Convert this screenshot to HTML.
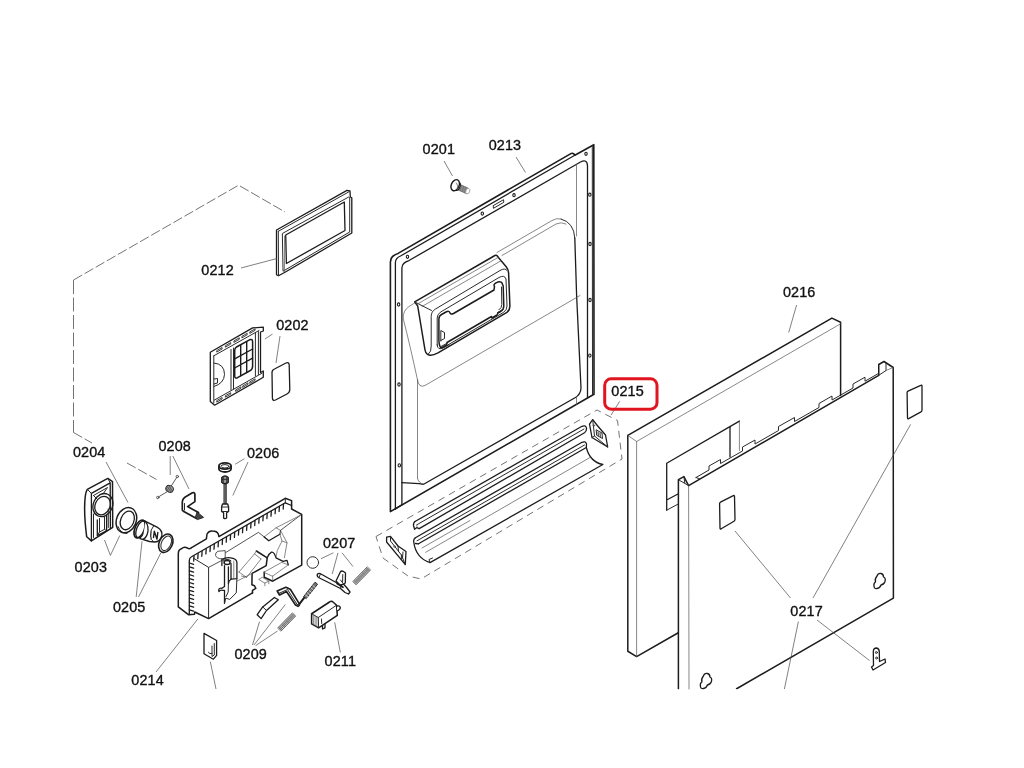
<!DOCTYPE html>
<html><head><meta charset="utf-8">
<style>
html,body{margin:0;padding:0;background:#fff;}
body{width:1024px;height:768px;overflow:hidden;position:relative;font-family:"Liberation Sans",sans-serif;}
svg{position:absolute;left:0;top:0;}
.b{fill:none;stroke:#1c1c1c;stroke-width:1.3;stroke-linejoin:round;stroke-linecap:round;}
.m{fill:none;stroke:#2a2a2a;stroke-width:1;stroke-linejoin:round;stroke-linecap:round;}
.t{fill:none;stroke:#555;stroke-width:0.7;stroke-linejoin:round;stroke-linecap:round;}
.l{fill:none;stroke:#4a4a4a;stroke-width:0.7;}
.d{fill:none;stroke:#5a5a5a;stroke-width:0.85;stroke-dasharray:10 2.8;}
.w{fill:#fff;}
text{font-family:"Liberation Sans",sans-serif;font-size:14.4px;fill:#111;stroke:#111;stroke-width:0.35;letter-spacing:0.12px;}
</style></head><body>
<svg width="1024" height="768" viewBox="0 0 1024 768">
<rect width="1024" height="768" fill="#fff"/>
<g class="d" id="dashes">
<path d="M73.5,280 L238.6,185.2 L285,212"/>
<path style="stroke-dasharray:14 3.5" d="M73.5,280 L73.5,432.5"/>
<path d="M73.5,432.5 L92,443 M127,463 L156.5,479.5"/>
</g>
<!--PARTS-->
<g id="p0212">
<path class="b" d="M276.5,230 L347,190.4 L350,191 L350.3,197 L351.8,197.8 L351.8,233 L285,272.3 L278.5,275.8 L276.5,274.7 Z"/>
<path class="m" d="M278.3,231.3 L348.6,192"/>
<path class="m" d="M278.3,231.3 L278.5,275.5"/>
<path class="m" d="M282.7,233.3 L348.7,197 L349.7,197.6 L349.7,232 L283.4,271 Z"/>
<path class="b" d="M285.7,235 L344.3,202 L345,230.5 L286.4,263.5 Z"/>
<path class="t" d="M284.5,271.5 L284.5,236"/>
</g>
<g id="p0201">
<path d="M459.3,184 L468.6,188.3 L466.6,193.8 L457.6,189.8 Z" fill="#8c8c8c" stroke="#555" stroke-width="0.6"/>
<path d="M461.5,185 L460,191 M463.7,186 L462.2,192 M465.9,187 L464.4,193" stroke="#666" stroke-width="0.6" fill="none"/>
<ellipse cx="467.8" cy="191.1" rx="1.9" ry="2.8" transform="rotate(22 467.8 191.1)" fill="#fff" stroke="#999" stroke-width="0.8"/>
<ellipse class="b" cx="457.3" cy="186.3" rx="2.7" ry="4.4" transform="rotate(22 457.3 186.3)" style="fill:#fff;stroke-width:1"/>
<ellipse class="b" cx="455.2" cy="185.2" rx="3.9" ry="5.8" transform="rotate(24 455.2 185.2)" style="fill:#fff;stroke-width:1.4"/>
<path class="t" d="M456.5,183 Q458.5,185.5 457.3,189.5"/>
</g>
<g id="p0202">
<path class="b" d="M210.3,352.2 L252.6,327.9 L263.3,327.2 L263.3,331 L260.5,332 L260.5,372.5 L263.3,371 L263.3,377.3 L214.6,405.2 L210.3,401.6 Z"/>
<path class="m" d="M213.8,355.8 L259,330.5"/>
<path class="m" d="M213.8,355.8 L213.8,403"/>
<path class="m" d="M214.5,400 L262,373.2"/>
<path class="m" d="M231,349.5 L231,390 M233.5,348 L233.5,388.8"/>
<path class="m" d="M255.4,333 L255.4,376 M258.4,331.5 L258.4,374.5"/>
<path class="b" d="M236.5,347 L249.5,339.8 Q252.6,338.5 252.6,342 L252.6,366.5 Q252.6,369.5 249.5,371 L237.5,377.7 Q234.7,379 234.7,376 L234.7,350.5 Q234.7,348 236.5,347 Z" style="stroke-width:1.5"/>
<path class="b" d="M240.7,345 L240.7,375.8 M246.7,341.7 L246.7,372.5 M234.7,358.8 L252.6,349 M234.7,368 L252.6,358.2" style="stroke-width:1.4"/>
<path class="m" d="M214,363 Q224.5,364 224.5,374.5 Q224,383.5 214,386.5"/>
<path class="m" d="M214,379 L217.5,378.5 L217.5,383 L214,384"/>
<path class="m" style="stroke-width:0.9" d="M217.1,350.4 L222.1,347.5 L222.1,349.0 L217.1,351.9 Z M225.7,345.5 L230.7,342.6 L230.7,344.1 L225.7,347.0 Z M234.3,340.7 L239.3,337.8 L239.3,339.3 L234.3,342.2 Z M242.2,336.2 L247.2,333.3 L247.2,334.8 L242.2,337.7 Z M250.1,331.7 L255.1,328.8 L255.1,330.3 L250.1,333.2 Z M217.1,400.4 L222.1,397.5 L222.1,399.0 L217.1,401.9 Z M225.7,395.5 L230.7,392.7 L230.7,394.2 L225.7,397.0 Z M236.0,389.7 L241.0,386.8 L241.0,388.3 L236.0,391.2 Z M243.0,385.7 L248.0,382.8 L248.0,384.3 L243.0,387.2 Z M250.1,381.7 L255.1,378.8 L255.1,380.3 L250.1,383.2 Z"/>
<path class="b" d="M274.5,369 L286,363 Q289,361.8 289.2,365 L289.8,389.5 Q289.8,392.5 287,394 L275.5,400 Q272.5,401.2 272.4,398 L272,372.5 Q272,370 274.5,369 Z"/>
</g>
<g id="p0213">
<!-- outer -->
<path class="b" style="stroke-width:1.6" d="M390.4,511.6 L390.4,262 Q390.6,255.5 398.1,253.4 L571.3,153.4 Q573.5,152.6 574.8,155.2 L593.8,144.7 L594,394.3 Z"/>
<path class="b" d="M395.4,509 L395.4,262.5 Q395.6,258 400.5,256 L574.8,155.2"/>
<path class="m" d="M592.3,146.5 L592.5,394.5"/>
<!-- inner flange loop -->
<path class="b" d="M401.9,504.7 L401.9,268 Q402,262.5 409,260.5 L580.5,162 Q587.3,158.5 587.5,166 L587.5,398"/>
<!-- bottom -->
<path class="b" d="M395.4,509 L401.9,504.7"/>
<!-- raised panel -->
<path class="b" d="M401.9,482.7 L419,483.6 L423.6,484.3 L575,397.8 Q580.8,394.5 581,388 L576.6,295.3 L574.8,238"/>
<path class="m" d="M574.8,238 Q574,222.5 561,219 "/>
<path class="t" d="M417.5,478 L417.5,380 Q410,345 403.3,319 Q402.5,311 409,306.5 L415.5,302.5"/>
<path class="t" d="M417.5,478 Q418,483 423.6,484.3"/>
<path class="t" d="M561,219 Q557,217.5 552,220.5 L497,252.5"/>
<path class="t" d="M566,224 Q561,221.5 556,224 L502,255.5"/>
<path class="t" d="M417.5,379.5 Q418.5,388.5 425,385.5 L580,295.5"/>
<path class="t" d="M576.5,164.5 L576.5,236"/>
<path class="t" d="M576.5,397 L576.5,404.5"/>
<!-- holes -->
<g fill="#fff" stroke="#1c1c1c" stroke-width="1.1">
<ellipse cx="407.5" cy="256.8" rx="1.2" ry="1.6"/>
<ellipse cx="482.3" cy="213.6" rx="1.2" ry="1.6"/>
<ellipse cx="514" cy="195.2" rx="1.2" ry="1.6"/>
<ellipse cx="586" cy="153.8" rx="1.2" ry="1.6"/>
<ellipse cx="589.8" cy="194.7" rx="1.2" ry="1.6"/>
<ellipse cx="590" cy="244" rx="1.2" ry="1.6"/>
<ellipse cx="590" cy="300" rx="1.2" ry="1.6"/>
<ellipse cx="589.8" cy="355.6" rx="1.2" ry="1.6"/>
<ellipse cx="398.6" cy="304.5" rx="1.2" ry="1.6"/>
<ellipse cx="399" cy="384.5" rx="1.2" ry="1.6"/>
<ellipse cx="399.3" cy="465.4" rx="1.2" ry="1.6"/>
</g>
<path class="m" d="M493.5,205.5 L503.5,199.7 L503.8,202.3 L493.8,208.1 Z"/>
</g>
<g id="handle">
<path class="b w" style="stroke-width:1.5" d="M414.7,301.9 L494.9,255.5 Q497,254.6 498.6,257.7 L506,266.5 Q508.6,269.5 508.6,273 L509.9,306 Q510,310 506.9,312.4 L438,352.9 Q431,356.5 427.5,354.4 Q425.5,353 425,350 L417.7,306 Z"/>
<path class="m" d="M414.7,301.9 L431.5,310.5"/>
<path class="t" d="M417.2,304.2 L498,257.5"/>
<path class="m" d="M428.5,354 Q431.5,352 431.2,346 L431.2,316.5 Q431.2,311.5 435.5,309 L500,270.5 Q505,267.5 507,270.5"/>
<path class="t" d="M422,306.5 L501.5,260.5"/>
<path class="m" d="M437.2,345 L437.2,318 Q437.2,314 441,311.8 L499,277.5 Q504.5,274.5 506,279 L507,306 Q507,310 503.5,312.4 L443.5,347.5 Q437.5,351 437.2,345 Z"/>
<path class="b" style="stroke-width:1.5" d="M438.9,340 L438.9,319 Q438.9,316 441.5,314.5 L446,312 Q449,310.5 449.8,312.5 Q450.5,315 453.5,313.5 L494,290 L494.5,286.5 Q493,284.5 496,282.8 Q500.5,280.5 502,283 L503.2,286 L503.8,306 Q503.8,309.5 500.5,311.5 L498,313 L497,315 L492,318 L491.5,316.5 L447,342.5 L446.5,345 L441,348 Q438.9,345.5 438.9,340"/>
<path class="m" d="M440.8,341 L440.8,330.5 L444.5,332.5 L444.5,338.5 L440.8,340.5"/>
<path class="m" d="M501.5,287 L501.8,304.5 Q501.8,308 499,309.8"/>
<path class="m" d="M441,346.5 L447.5,343 M442.5,348.2 L449,344.8 M497.5,312.5 L503.5,309.2"/>
</g>
<g id="p0215">
<path class="d" style="stroke-dasharray:7 5" d="M376,536.5 L597,410 L617.5,420.5 L622,459 L421,579 L408,576 L383,558 Z"/>
<!-- rod1 -->
<path class="b" d="M415,521.5 L582,426.3 Q585.5,424.8 586.5,428 Q586.8,431 584.5,432.8 L419.2,528.6"/>
<path class="b" d="M415,521.5 Q413,523 413.6,526 L414.6,529.3 L416.8,527.6 L419.2,528.6"/>
<path class="m" d="M416.8,524.8 L584,429"/>
<path class="t" d="M416.8,527.6 L417,524.8"/>
<!-- rod2 -->
<path class="b" d="M415.4,537.7 L582,442.3 Q585.5,440.8 586.5,444 L586.3,447.5"/>
<path class="b" d="M415.4,537.7 Q413.2,539 413.8,542.5 Q416,558 430,562.6 L602.9,464.5 Q590,462 586.3,447.5 L418.5,543.8"/>
<path class="m" d="M417,540.8 L584.5,445"/>
<path class="b" d="M415.4,543.5 L418.5,543.8"/>
<path class="t" d="M425.7,552.3 L590,457.5"/>
<path class="t" d="M422,548 L470,520.5"/>
<path class="m" d="M430,562.6 L429,559.5 L432.5,558"/>
<!-- right clip -->
<path class="b w" d="M592.7,419.7 L589.5,424.2 L592,437.5 L607.7,447 L605.5,435 L597.3,425.5 Z"/>
<path class="m" d="M592.7,419.7 L594.5,436 L607.7,447 M594.5,436 L592,437.5 M596.5,430 L602,433 L602.5,438.5 L597,435.5 Z M598,432 L598.3,435.5 M600,433 L600.3,436.5"/>
<circle class="t" cx="593.8" cy="425.5" r="0.9"/>
<!-- left clip -->
<path class="b w" d="M386.6,537.2 L390.5,536.4 L398,546 L406,551.5 L405.3,564.5 L401.4,559.8 L386.6,542 Z"/>
<path class="m" d="M390.5,536.4 L390.5,541 L401.4,555 L405.3,564.5 M401.4,555 L401.4,559.8 M398,546 L398.5,551.5 M403,552 L402.5,558"/>
<circle class="t" cx="394.5" cy="546.5" r="0.9"/>
</g>
<g id="p0216">
<path class="b" style="stroke-width:1.5" d="M678.75,632.5 L636.6,656.6 L627.8,651.25 L627.8,435.4 L831.9,318.1 L840.6,322.2 L840.6,395.5"/>
<path class="t" d="M627.8,435.4 L636.6,441.5 L840.6,323.8"/>
<path class="t" d="M636.6,441.5 L636.6,656.6"/>
<!-- cutout -->
<path class="b" d="M678.4,493.75 L666.7,500 M666.7,510.2 L666.7,463.3 L739.4,421.1"/>
<path class="m" d="M678.4,503.9 L666.7,510.2"/>
<path class="t" d="M739.4,421.1 L739.4,450.5"/>
<path class="b" d="M730,427.3 L730,457"/>
</g>
<g id="p0217">
<path class="b w" style="stroke-width:1.5" d="M678.4,689 L678.4,479.7 L683.9,476.6 L688.6,485.6 L878.75,375.3 L878.75,364.5 L884,361.5 L893.2,367.5 L893.4,598.1 L736.6,688.75"/>
<rect x="670" y="689.3" width="240" height="10" fill="#fff"/>
<path class="t" d="M689,689 L688.6,485.6"/>
<path class="m" d="M688.6,485.6 L678.4,479.7"/>
<path class="m" d="M683.9,476.6 L684.7,482.8"/>
<path class="m" d="M878.75,375.3 L886,370.5 L886,363"/>
<path class="t" d="M886,370.5 L893.2,367.5"/>
<!-- top edge tabs -->
<path class="m" d="M696,477.5 L709,470 L709,466 L720.5,459.5 L720.5,463.5 L742.5,451 L742.5,447 L755,440 L755,444 L778.5,430.5 L778.5,426.5 L794.5,417.5 L794.5,421.5 L819,407.5 L819,403.5 L832,396 L832,400 L853,388 L853,384 L865,377.2 L865,381.2 L878.75,373.3"/>
<path class="m" d="M696,477.5 L699.5,478.8"/>
<!-- small rect -->
<path class="b" d="M719.6,504 Q719.4,502.8 720.5,502.2 L733.3,495.6 Q734.4,495 734.5,496.3 L735,519.3 Q735,520.6 734,521.2 L721.2,528.8 Q720,529.4 720,528 Z"/>
<!-- keyholes -->
<path class="b" d="M877,576 Q878,573 881,573.5 Q883.5,574 883.5,577 Q886,578 885,581.5 Q884,584.5 881,585 Q880,588 877,588.5 Q874,589 874,586 Q873.5,583 875.5,582 Q874.5,579 877,576 Z"/>
<path class="b" transform="translate(-173.6,100)" d="M877,576 Q878,573 881,573.5 Q883.5,574 883.5,577 Q886,578 885,581.5 Q884,584.5 881,585 Q880,588 877,588.5 Q874,589 874,586 Q873.5,583 875.5,582 Q874.5,579 877,576 Z"/>
</g>
<g id="p0217b">
<path class="b" d="M907.1,393 Q906.9,391.7 908,391.1 L920.8,385.3 Q921.9,384.7 922,386 L922,410 Q922,411.3 921,411.9 L908.7,418.6 Q907.5,419.2 907.5,417.8 Z"/>
<!-- bracket -->
<g transform="translate(0,2.5)">
<path class="b" d="M873.3,649 Q873.5,645.5 876.5,645.5 Q879.3,646 879.3,649.5 L879.5,659 L885,656.5 L885.5,660 L873,667.5 L871.5,664.5 L873.5,663 Z"/>
<circle class="m" cx="876.4" cy="650" r="1"/><circle class="m" cx="876.6" cy="655.5" r="1"/>
</g>
</g>
<g id="p0203">
<path class="b w" style="stroke-width:1.5" d="M87.3,489.3 L107.8,478.4 L112.5,481.7 L112.7,527.4 L91.4,540.9 L86.7,536.8 Q83.5,512 85.2,497 Q85.8,491.5 87.3,489.3 Z"/>
<path class="b" d="M91.4,540.9 L91.4,493.4 L110.2,482.9 L110.4,528.5"/>
<path class="m" d="M87.3,489.3 L91.4,493.4 M107.8,478.4 L110.2,482.9"/>
<path class="m" d="M93.5,495.5 L107.5,487.5 L103,494 M93.5,495.5 L97,499"/>
<ellipse class="b" cx="102.9" cy="505.1" rx="9.6" ry="11.9" transform="rotate(24 102.9 505.1)"/>
<ellipse class="b" cx="102.6" cy="505.6" rx="7.4" ry="9.6" transform="rotate(24 102.6 505.6)"/>
<path class="m" d="M93.5,514 L93.5,537.5 M108.3,509 L108.3,527.5"/>
<path class="b" d="M97.3,520 L97.3,535.6 L106.6,530.9 L106.6,515.5"/>
<path class="m" d="M99.5,518.5 L99.5,532 L104.5,529.3 L104.5,516.5 M97.3,535.6 L99.5,532 M106.6,530.9 L104.5,529.3"/>
</g>
<g id="p0204">
<ellipse class="b" style="stroke-width:1.5" cx="126.4" cy="520.2" rx="9.8" ry="13" transform="rotate(22 126.4 520.2)"/>
<ellipse class="b" cx="127.3" cy="520.4" rx="6.6" ry="9.7" transform="rotate(22 127.3 520.4)"/>
<path class="m" d="M118,526.5 Q121,534 127,533.5"/>
</g>
<g id="p0205">
<path class="b w" style="stroke-width:1.4" d="M143.5,520.4 L157.5,527.3 Q162.8,530.5 161.8,536 Q160.3,541.5 155,542 L149.5,541.5 L140,538.6 Z"/>
<ellipse class="b w" style="stroke-width:1.7" cx="139.6" cy="529" rx="4.7" ry="9.4" transform="rotate(22 139.6 529)"/>
<ellipse class="b" style="stroke-width:1.3" cx="140.9" cy="529.5" rx="4.3" ry="8.8" transform="rotate(22 140.9 529.5)"/>
<path class="b w" style="stroke-width:1.3" d="M145.5,521.4 Q149.5,527 147.3,534 Q145.8,538.5 142.6,539.4"/>
<path class="m" d="M153.5,526 Q150,530 150.5,536 Q151,540.5 153.5,541.8"/>
<path class="b" style="stroke-width:1.4" d="M153.5,537.5 L154.3,531.3 L157,539.2 L157.8,532.5"/>
<path class="t" d="M151.5,530.5 L150.8,539.5"/>
<ellipse class="b" style="stroke-width:1.6" cx="165.8" cy="543.2" rx="6.6" ry="9.6" transform="rotate(25 165.8 543.2)"/>
<ellipse class="m" cx="166.2" cy="543.3" rx="4.7" ry="7.7" transform="rotate(25 166.2 543.3)"/>
</g>
<g id="p0208">
<path class="t" style="stroke:#333;stroke-width:0.8" d="M171,486.3 L176.6,477.6 M167.5,491.5 L159,496.6"/>
<circle class="t" style="stroke:#333;stroke-width:0.8" cx="177.3" cy="476.5" r="1.2"/><circle class="t" style="stroke:#333;stroke-width:0.8" cx="157.8" cy="497.5" r="1.2"/>
<ellipse cx="169.6" cy="488.9" rx="3.9" ry="3.3" fill="#9a9a9a" stroke="#333" stroke-width="0.9" transform="rotate(25 169.6 488.9)"/>
<path d="M167.3,486.5 L170.8,491.8 M169,486 L172.4,491 M166,487.8 L169,492.3" fill="none" stroke="#333" stroke-width="0.7"/>
<path class="b w" style="stroke-width:1.7" d="M182.3,510.2 L182.3,502 Q182.5,498.3 186.5,496.2 L192.4,492.8 Q194.4,492 194.9,494.2 L194.9,501.6 L187.6,506.6 L198.5,512.6 L196.5,518.6 L183.8,511.6 Z"/>
<path class="m" d="M184.5,503.5 L184.5,510"/>
<path d="M197,512 L203.6,517.4 L197.5,519.6 L195.3,517.6 Z" fill="#444" stroke="#222" stroke-width="0.9"/>
</g>
<g id="p0206">
<ellipse class="b w" style="stroke-width:1.8" cx="225" cy="468.8" rx="6.1" ry="3.2"/>
<rect x="218.9" y="466" width="12.2" height="2.6" fill="#fff"/>
<path class="b" style="stroke-width:1.5" d="M218.9,466.2 L218.9,468.6 M231.1,466.2 L231.1,468.6"/>
<ellipse class="b w" style="stroke-width:1.8" cx="225" cy="466" rx="6.1" ry="3.1"/>
<ellipse class="m" cx="225" cy="466.3" rx="4" ry="1.7"/>
<path class="b" style="fill:#999;stroke-width:1.4" d="M221.8,477.5 Q225,474.5 228.2,477.5 L228.2,482.5 Q225,485 221.8,482.5 Z"/>
<path class="m" d="M223.2,477 L223.2,483.5 M226.8,477 L226.8,483.5 M221.8,479.3 L228.2,479.3"/>
<path class="b" d="M224,484.3 L224,504 M226.2,484.3 L226.2,504 M225.1,484.3 L225.1,504" style="stroke-width:1"/>
<path class="b w" d="M222.5,504 L227.7,504 L228.6,507 L228.6,511.5 L226.6,512.8 L226.6,518 Q225,519.3 223.6,518 L223.6,512.8 L221.6,511.5 L221.6,507 Z"/>
<path class="m" d="M221.6,507 L228.6,507 M221.6,511.5 L228.6,511.5"/>
</g>
<g id="p0214">
<path class="w" stroke="none" d="M178.3,606.9 L178.3,553.5 L192,547.3 L206.4,538.9 L207,534 L218.3,534 L218.9,536.6 L285.3,498.3 L291.6,500.6 L291.6,509 L301.7,514.3 L301.7,565.1 L272.7,581.4 L252.5,592.9 L208.6,618.6 L194.7,612 L188.4,614.7 Z"/>
<path class="b" style="stroke-width:1.5" d="M252.5,592.9 L208.6,618.6 L194.7,612 L194.5,614.2 L188.4,614.7 L178.3,606.9 L178.3,553.5 Q178.5,549.5 181.5,548.8 Q184,546.5 187,547.8 Q190,549.8 192,547.3 L206.4,538.9 L207,534 Q209,530.5 212.5,531 Q217,531 218.3,534 L218.9,536.6 L285.3,498.3 L291.6,500.6 L291.6,509 L301.7,514.3 L301.7,565.1 L272.7,581.2 L264.2,577.3 L264.2,572.1"/>
<path class="b" style="stroke-width:1.5" d="M252.5,592.9 L252.5,590.3 L255.8,588.4 L254.5,585.75 L251.9,584.8 L252.1,573.4 L266.2,565.6 L267.2,557.8 L256.4,551"/>
<path class="b" d="M189.3,614.5 L189.3,560.5 Q189.3,558 191.5,556.8 L285.3,502.8 L291.6,505.5"/>
<path class="m" d="M285.3,498.3 L285.3,502.8"/>
<path class="b" style="stroke-width:1.3" d="M194.0,556.0 L193.7,561.0 M198.1,553.6 L197.8,558.6 M202.1,551.3 L201.8,556.3 M206.2,548.9 L205.9,553.9 M210.3,546.5 L210.0,551.5 M214.3,544.2 L214.0,549.2 M218.4,541.8 L218.1,546.8 M222.5,539.5 L222.2,544.5 M226.5,537.1 L226.2,542.1 M230.6,534.7 L230.3,539.7 M234.7,532.4 L234.4,537.4 M238.8,530.0 L238.4,535.0 M242.8,527.6 L242.5,532.6 M246.9,525.3 L246.6,530.3 M251.0,522.9 L250.7,527.9 M255.0,520.5 L254.7,525.5 M259.1,518.2 L258.8,523.2 M263.2,515.8 L262.9,520.8 M267.2,513.5 L266.9,518.5 M271.3,511.1 L271.0,516.1 M275.4,508.7 L275.1,513.7 M279.4,506.4 L279.1,511.4 M283.5,504.0 L283.2,509.0 M189.4,563.0 L193.6,564.3 M189.4,566.9 L193.6,568.2 M189.4,570.8 L193.6,572.1 M189.4,574.7 L193.6,576.0 M189.4,578.6 L193.6,579.9 M189.4,582.5 L193.6,583.8 M189.4,586.4 L193.6,587.7 M189.4,590.3 L193.6,591.6 M189.4,594.2 L193.6,595.5 M189.4,598.1 L193.6,599.4 M189.4,602.0 L193.6,603.3 M189.4,605.9 L193.6,607.2 M189.4,609.8 L193.6,611.1"/>
<path class="m" d="M193.5,558.2 L208.6,567.4 L208.6,618.1"/>
<path class="m" style="stroke-width:0.8" d="M208.6,567.4 L224.5,559 M225.8,552.5 L258.4,532.4 L264.2,536.9 M280.5,530.4 L301.7,514.3"/>
<path class="t" d="M264.2,536.9 L276,527.8 L280.5,530.4 M276,527.8 L300,515.5"/>
<!-- blob -->
<path class="m" style="stroke-width:0.8" d="M221.9,559 Q216.5,558.5 215.6,555.5 Q215,552.5 218,551.25 L225.2,550.6 L225.2,559"/>
<!-- pipe bracket -->
<path class="b" d="M221.9,559 L221.9,565.5 M221.9,559.2 Q227,556.5 233,558.4 Q236.7,559.5 236.9,562.5 L236.9,578.6 L231,579.2 L231,563.5"/>
<path class="t" d="M233.8,561 L233.8,578.5"/>
<ellipse class="b" style="stroke-width:1.5" cx="227.1" cy="562.6" rx="3" ry="2"/>
<path class="m" d="M223.3,560.8 Q227,557.8 231,560.8"/>
<path class="b" d="M224.5,565.6 L224.5,586.4 L221.9,588.3 Q219,587.8 218.7,590 L218.9,591.5 Q220.5,589.6 223,590.3 L224.5,590.3 L224.5,603.3"/>
<path class="b" d="M228.4,566.9 L228.4,583.8 Q228.6,580.5 231,579.2"/>
<path class="m" d="M236.9,578.6 L236.25,592.9 L229.7,599.4 L225.8,598.1 L224.5,603.3 M228.4,583.8 L228.2,592 L226,596.5"/>
<!-- central channel -->
<path class="t" d="M238.9,572.1 L254.5,553.9 L256.4,551 M241.5,576 L246.7,577.3 L261,559 M238.9,572.1 L246.7,577.3 M236.9,581.2 L252.1,573.4 M254.5,553.9 L261,559"/>
<path class="b" d="M267.2,557.8 Q269,553.5 271.5,552.2 Q274,551.5 276,557.8 L283.1,561.4 L287,560.4 L288.3,564.9"/>
<!-- upper-right block -->
<path class="b" d="M264.2,536.9 L268.8,540.8 L279.9,534.3"/>
<path class="m" d="M279.9,534.3 L280.5,530.4"/>
<path class="t" d="M280.5,530.4 L287,542.8 L284.4,557.8 M279.9,534.3 L282,541 L277.3,550.5 L276,557 M287,542.8 L282,541"/>
<!-- lower-right block -->
<path class="t" d="M264.2,572.1 L281.8,562.3 L288.3,564.9 L272.7,576 Z M272.7,581.2 L272.7,576"/>
<!-- small block -->
<path class="t" d="M259,579.2 L262.3,577.3 L268.8,581.2 L264.9,582.9 Z M264.9,582.9 L264.9,585.75 M268.8,581.2 L268.8,583.8"/>
</g>
<g id="p0207">
<circle class="t" cx="312.8" cy="562.5" r="5.8" style="stroke:#333;stroke-width:1"/>
<!-- lever -->
<path class="b w" d="M317.5,574 Q319,572.8 321,574 L341,585.2 L343.5,584 L347,588 L350,592 L348.5,594 L345,592.5 L340.5,588.5 L318.5,577.5 Q316.5,576 317.5,574 Z"/>
<path class="m" d="M320.5,573.8 L319,577.6 M341,585.2 L340.5,588.5"/>
<path class="b w" d="M336,581 L340.2,572.2 Q341.5,570.3 343.5,571.5 L345.5,573 L345.3,583 L343.5,584 L340,585 Z"/>
<path class="m" d="M342.8,574.5 L342.6,581.5 M340.5,580 L343.5,584"/>
<path class="b" style="stroke-width:1.6" d="M337,583.5 L343,587.3"/>
<!-- spring -->
<path d="M355.9,584.9 L370.6,569.9 L367.4,566.7 L352.7,581.7 Z" fill="#ccc" stroke="none"/>
<path d="M352.7,581.7 L367.4,566.7 M353.8,582.8 L368.5,567.8 M354.8,583.8 L369.5,568.8 M355.9,584.9 L370.6,569.9" fill="none" stroke="#444" stroke-width="0.8"/>
<path d="M355.9,584.9 L352.7,581.7 M357.3,583.5 L354.0,580.3 M358.6,582.2 L355.3,579.0 M360.0,580.8 L356.7,577.6 M361.3,579.5 L358.0,576.2 M362.6,578.1 L359.3,574.9 M364.0,576.7 L360.7,573.5 M365.3,575.4 L362.0,572.1 M366.6,574.0 L363.3,570.8 M368.0,572.6 L364.7,569.4 M369.3,571.3 L366.0,568.1 M370.6,569.9 L367.4,566.7" fill="none" stroke="#777" stroke-width="0.5"/>
</g>
<g id="p0209">
<path class="b w" d="M257.2,614.7 L262.7,606.9 L274.4,597.5 L278.3,599.8 L272,605.5 L266.5,610.5 L261.1,618.6 Z"/>
<path class="m" d="M262.7,606.9 L266.5,610.5"/>
<!-- lever -->
<path class="b w" style="stroke-width:1.6" d="M277.2,591 L285.8,587.2 L288.2,588.3 L290.5,589.5 L299.5,604.2 L298,606.3 L295.5,605 L286.5,591.5 L279.5,595 Z"/>
<path class="m" d="M277.2,591 L279.5,595 M279.3,593.2 L287.5,589.5 L297.5,605"/>
<path class="b" style="stroke-width:2" d="M298.3,605.3 L304.5,597.3"/>
<path d="M303.6,596.6 L315,582.2 L317.6,584.2 L306.2,598.6 Z" fill="#777" stroke="#222" stroke-width="0.9"/>
<path class="m" d="M305.5,595 L308,597 M307.3,592.7 L309.8,594.7 M309.1,590.4 L311.6,592.4 M311,588 L313.5,590 M312.9,585.6 L315.4,587.6" style="stroke:#eee;stroke-width:0.7"/>
<circle cx="298.3" cy="605.3" r="1.5" fill="#333"/>
<!-- spring -->
<path d="M280.8,631.3 L295.8,615.9 L292.6,612.7 L277.6,628.1 Z" fill="#ccc" stroke="none"/>
<path d="M277.6,628.1 L292.6,612.7 M278.7,629.2 L293.7,613.8 M279.7,630.2 L294.7,614.8 M280.8,631.3 L295.8,615.9" fill="none" stroke="#444" stroke-width="0.8"/>
<path d="M280.8,631.3 L277.6,628.1 M282.2,629.9 L278.9,626.7 M283.6,628.5 L280.3,625.3 M284.9,627.1 L281.6,623.9 M286.3,625.7 L283.0,622.5 M287.7,624.3 L284.4,621.1 M289.0,622.9 L285.7,619.7 M290.4,621.5 L287.1,618.3 M291.8,620.1 L288.5,616.9 M293.1,618.7 L289.8,615.5 M294.5,617.3 L291.2,614.1 M295.8,615.9 L292.6,612.7" fill="none" stroke="#777" stroke-width="0.5"/>
</g>
<g id="p0211">
<path class="b w" style="stroke-width:1.5" d="M311.6,613.75 L329.5,602 Q331.5,600.5 333,602 L336.6,605.2 L337.3,615.3 L318.6,627.8 L311.6,623.9 Z"/>
<path class="m" d="M311.6,613.75 L318.3,617.5 L318.6,627.8 M318.3,617.5 L336.6,605.2"/>
<path class="t" d="M313.3,615 L313.5,624.8 M315,616 L315.2,625.7 M316.7,616.9 L316.9,626.6"/>
<path class="m" d="M321.5,619 L321.7,623.5"/>
<path class="b w" d="M337,606 Q339.5,605.3 340.3,607.2 Q340.8,609.5 337.2,611"/>
<path class="b" d="M322.5,625.5 L322.5,629 L325,627.8 L325,623.8"/>
</g>
<g id="card">
<path class="b w" d="M204,633.4 L216.6,640.5 L216.6,655.3 L213.4,659.2 L204,653.75 Z"/>
<path class="m" d="M214.3,643.5 L214.3,655 L212,656.5 L212,646 M208.3,652.3 Q209.5,654.5 212,653.5"/>
</g>
<!--PARTS3-->







<!--LEADERS-->
<g class="l" id="leaders">
<path d="M444,161 L452.5,176"/>
<path d="M516,157 L525.5,172.5"/>
<path d="M241,268 L277,258.5"/>
<path d="M272.5,334 L265,339"/>
<path d="M280,336 L276,363"/>
<path d="M106,462 L128,502.5"/>
<path d="M170.2,456 L170.2,475"/>
<path d="M172.8,456 L189,489"/>
<path d="M244.5,458.7 L235.2,464.2"/>
<path d="M248,462 L232.8,495.5"/>
<path d="M110.4,555.4 L104.5,540"/>
<path d="M110.4,555.4 L119.8,535.5"/>
<path d="M136.2,597 L142,541.3"/>
<path d="M138.5,597 L160.8,553"/>
<path d="M333.4,552.8 L321,558.7"/>
<path d="M338,552.8 L332.2,574"/>
<path d="M342,552.8 L353,566.5"/>
<path d="M252.5,645 L259.5,621.7"/>
<path d="M254,645 L285.3,604.5"/>
<path d="M255.6,645.6 L277.5,631"/>
<path d="M334.7,622.3 L340.3,652.5"/>
<path d="M197.8,619 L156,672"/>
<path d="M210.3,661.6 L216,689"/>
<path d="M619.7,401.4 L611,415.1"/>
<path d="M796.6,305 L788.7,332.5"/>
<path d="M735,531 L790.5,598"/>
<path d="M910.6,424.4 L813,598"/>
<path d="M798.4,621.6 L784.4,689"/>
<path d="M817,620 L869.5,660.5"/>
</g>
<!--LABELS-->
<g id="labels" style="filter:grayscale(1)">
<text x="422.6" y="153.9">0201</text>
<text x="488.7" y="150.4">0213</text>
<text x="201.3" y="274.6">0212</text>
<text x="276.2" y="330.4">0202</text>
<text x="73" y="457">0204</text>
<text x="158.5" y="451">0208</text>
<text x="247" y="457.5">0206</text>
<text x="74.6" y="571.6">0203</text>
<text x="112.9" y="611.5">0205</text>
<text x="323" y="548">0207</text>
<text x="234.5" y="658.9">0209</text>
<text x="324.6" y="666">0211</text>
<text x="131.3" y="684.8">0214</text>
<text x="611.3" y="395.6">0215</text>
<text x="783" y="297.1">0216</text>
<text x="790.3" y="616">0217</text>
</g>
<rect x="604.7" y="378.8" width="52.3" height="30.4" rx="6.5" ry="6.5" fill="none" stroke="#e0151f" stroke-width="3"/>
</svg>
</body></html>
